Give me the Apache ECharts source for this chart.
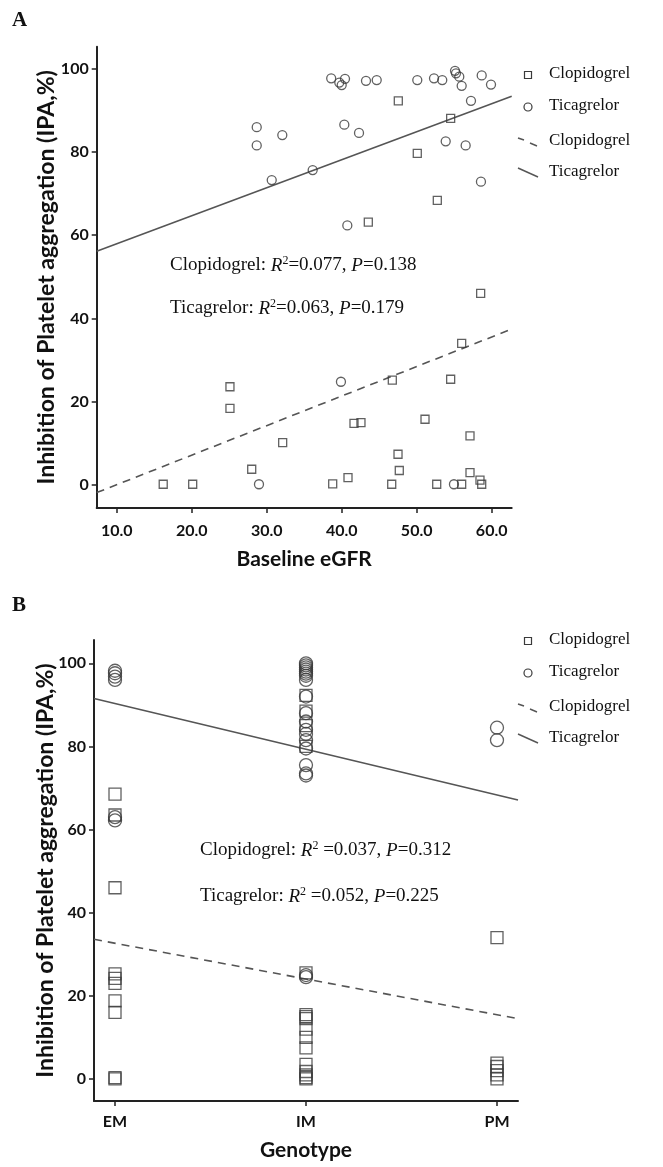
<!DOCTYPE html>
<html>
<head>
<meta charset="utf-8">
<script src="https://cdn.jsdelivr.net/npm/echarts@6/dist/echarts.min.js"></script>
<style>
  html, body { margin: 0; padding: 0; background: #fff; }
  #chart { width: 663px; height: 1167px; }
</style>
</head>
<body>
<div id="chart"></div>
<script>
// ---- Panel A: IPA vs baseline eGFR ----
const egfrClop = [47.55, 54.53, 50.08, 52.75, 43.55, 58.53, 56.0, 46.75, 54.53, 25.1, 25.1, 51.11, 42.57, 41.64, 57.11, 32.13, 47.51, 28.0, 47.68, 57.11, 40.84, 58.44, 38.8, 16.2, 20.13, 46.67, 52.67, 56.0, 58.67];
const ipaClopA  = [92.2, 88.0, 79.6, 68.3, 63.1, 46.0, 34.0, 25.2, 25.4, 23.6, 18.4, 15.8, 15.0, 14.8, 11.8, 10.2, 7.4, 3.8, 3.5, 3.0, 1.8, 1.2, 0.3, 0.2, 0.2, 0.2, 0.2, 0.2, 0.2];
const egfrTica = [28.67, 28.67, 32.08, 30.67, 36.13, 38.6, 39.68, 40.0, 40.44, 43.24, 44.67, 50.08, 52.31, 53.41, 55.11, 55.24, 55.68, 56.0, 58.67, 59.91, 57.24, 40.35, 42.31, 53.87, 56.53, 58.57, 40.75, 39.9, 28.97, 54.97];
const ipaTicaA  = [85.9, 81.5, 84.0, 73.2, 75.6, 97.6, 96.6, 96.0, 97.5, 97.0, 97.2, 97.2, 97.6, 97.2, 99.4, 98.8, 98.0, 95.8, 98.3, 96.1, 92.2, 86.5, 84.5, 82.5, 81.5, 72.8, 62.3, 24.8, 0.2, 0.2];
// linear fits: [intercept, slope]
const fitClopA = [-7.0, 0.709];
const fitTicaA = [51.2, 0.672];
const egfrTicks = [10, 20, 30, 40, 50, 60];

// ---- Panel B: IPA by CYP2C19 genotype ----
const genotypes = ['EM', 'IM', 'PM'];
const genoClop = [1,1,1,1,1,1,1,1,1,1, 2,2,2,2,2,2,2,2,2,2,2,2,2,2,2,2, 3,3,3,3,3,3];
const ipaClopB = [68.5, 63.5, 46.0, 25.3, 24.2, 23.0, 18.8, 16.0, 0.3, 0,
                  92.3, 88.5, 85.0, 80.0, 25.5, 15.5, 15.0, 14.5, 12.0, 10.0, 7.5, 3.5, 1.8, 1.0, 0.3, 0,
                  34.0, 3.8, 3.0, 2.0, 1.0, 0];
const genoTica = [1,1,1,1,1,1, 2,2,2,2,2,2,2,2,2,2,2,2,2,2,2,2,2,2,2,2, 3,3];
const ipaTicaB = [98.2, 97.6, 96.8, 96.0, 63.0, 62.2,
                  100, 99.5, 99.0, 98.5, 98.0, 97.5, 97.0, 96.0, 92.0, 88.0, 86.0, 84.0, 83.0, 81.5, 79.5, 75.5, 73.5, 73.0, 25.0, 24.5,
                  84.5, 81.5];
const fitClopB = [41.25, -8.6];
const fitTicaB = [101.3, -11.0];

const ipaTicks = [0, 20, 40, 60, 80, 100];

// axis extents
const xA = [7.33, 62.67], yA = [-5.5, 105.2];
const xB = [0.89, 3.11], yB = [-5.3, 105.6];

const zip = (xs, ys) => xs.map((x, i) => [x, ys[i]]);
const fitLine = (fit, ext) => ext.map(x => [x, fit[0] + fit[1] * x]);

const INK = '#3a3a3a';
const SANS = 'Lato';
const SERIF = 'Liberation Serif';

const tickLabel = { color: '#111', fontFamily: SANS, fontWeight: 'bold', fontSize: 16 };

function valueAxis(ext, ticks, fmt, extra) {
  return Object.assign({
    type: 'value', min: ext[0], max: ext[1],
    splitLine: { show: false },
    axisLine: { show: true, onZero: false, lineStyle: { color: '#222', width: 2 } },
    axisTick: { show: true, customValues: ticks, length: 5, lineStyle: { color: '#222', width: 1.5 } },
    axisLabel: Object.assign({ customValues: ticks, formatter: fmt }, tickLabel),
    nameMoveOverlap: false
  }, extra);
}

const yName = 'Inhibition of Platelet aggregation (IPA,%)';
const yNameStyle = { fontFamily: SANS, fontWeight: 'bold', fontSize: 23, color: '#111' };
const xNameStyle = { fontFamily: SANS, fontWeight: 'bold', fontSize: 21, color: '#111' };

const hollow = { color: 'rgba(0,0,0,0)', borderColor: INK, borderWidth: 1.3 };

function scatter(name, data, symbol, size, idx) {
  return { name, type: 'scatter', xAxisIndex: idx, yAxisIndex: idx, data, symbol, symbolSize: size,
           itemStyle: hollow, emphasis: { disabled: true }, z: 3 };
}
function line(name, data, dashed, idx) {
  return { name, type: 'line', xAxisIndex: idx, yAxisIndex: idx, data, symbol: 'none', silent: true,
           lineStyle: { color: '#555', width: 1.6, type: dashed ? [8, 6] : 'solid' }, z: 2 };
}

// legend block (markers + labels) drawn at a given top
function legendBlock(top) {
  const x0 = 528, tx = 549, s = 7;
  const txt = (t, y) => ({ type: 'text', left: tx, top: y - 10,
    style: { text: t, fontFamily: SERIF, fontSize: 17, fill: '#111' } });
  return [
    { type: 'rect', shape: { x: x0 - s / 2, y: top - s / 2, width: s, height: s },
      style: { fill: 'none', stroke: INK, lineWidth: 1.2 } },
    txt('Clopidogrel', top),
    { type: 'circle', shape: { cx: x0, cy: top + 32, r: s / 2 + 0.5 },
      style: { fill: 'none', stroke: INK, lineWidth: 1.2 } },
    txt('Ticagrelor', top + 32),
    { type: 'line', shape: { x1: 518, y1: top + 63, x2: 524, y2: top + 65 }, style: { stroke: '#555', lineWidth: 1.4 } },
    { type: 'line', shape: { x1: 530, y1: top + 68, x2: 537, y2: top + 71 }, style: { stroke: '#555', lineWidth: 1.4 } },
    txt('Clopidogrel', top + 67),
    { type: 'line', shape: { x1: 518, y1: top + 93, x2: 538, y2: top + 102 }, style: { stroke: '#555', lineWidth: 1.4 } },
    txt('Ticagrelor', top + 98)
  ];
}

const richStyle = {
  n: { fontFamily: SERIF, fontSize: 19, fill: '#111', verticalAlign: 'bottom', lineHeight: 22 },
  i: { fontFamily: SERIF, fontSize: 19, fontStyle: 'italic', fill: '#111', verticalAlign: 'bottom', lineHeight: 22 },
  s: { fontFamily: SERIF, fontSize: 12, fill: '#111', verticalAlign: 'bottom', lineHeight: 22, padding: [0, 0, 8, 0] }
};
function stat(left, top, drug, r2, p, gap) {
  return { type: 'text', left, top,
    style: { text: `{n|${drug}: }{i|R}{s|2}{n|${gap}=${r2}, }{i|P}{n|=${p}}`, rich: richStyle } };
}

const option = {
  animation: false,
  backgroundColor: '#fff',
  grid: [
    { left: 96.7, top: 46.7, width: 415, height: 461.3 },
    { left: 94, top: 640, width: 424, height: 461 }
  ],
  xAxis: [
    valueAxis(xA, egfrTicks, v => v.toFixed(1), {
      gridIndex: 0, name: 'Baseline eGFR', nameLocation: 'middle', nameGap: 41, nameTextStyle: xNameStyle,
      axisLabel: Object.assign({ customValues: egfrTicks, formatter: v => v.toFixed(1), margin: 15 }, tickLabel) }),
    valueAxis(xB, [1, 2, 3], v => genotypes[Math.round(v) - 1], {
      gridIndex: 1, name: 'Genotype', nameLocation: 'middle', nameGap: 39, nameTextStyle: xNameStyle,
      axisLabel: Object.assign({ customValues: [1, 2, 3], formatter: v => genotypes[Math.round(v) - 1], margin: 13 }, tickLabel) })
  ],
  yAxis: [
    valueAxis(yA, ipaTicks, v => String(v), {
      gridIndex: 0, name: yName, nameLocation: 'middle', nameGap: 39, nameRotate: 90, nameTextStyle: yNameStyle }),
    valueAxis(yB, ipaTicks, v => String(v), {
      gridIndex: 1, name: yName, nameLocation: 'middle', nameGap: 36.5, nameRotate: 90, nameTextStyle: yNameStyle })
  ],
  series: [
    scatter('Clopidogrel', zip(egfrClop, ipaClopA), 'rect', 8, 0),
    scatter('Ticagrelor', zip(egfrTica, ipaTicaA), 'circle', 9, 0),
    line('Clopidogrel fit', fitLine(fitClopA, xA), true, 0),
    line('Ticagrelor fit', fitLine(fitTicaA, xA), false, 0),
    scatter('Clopidogrel', zip(genoClop, ipaClopB), 'rect', 12, 1),
    scatter('Ticagrelor', zip(genoTica, ipaTicaB), 'circle', 13, 1),
    line('Clopidogrel fit', fitLine(fitClopB, xB), true, 1),
    line('Ticagrelor fit', fitLine(fitTicaB, xB), false, 1)
  ],
  graphic: [
    { type: 'text', left: 12, top: 10, style: { text: 'A', fontFamily: SERIF, fontWeight: 'bold', fontSize: 21, fill: '#111' } },
    { type: 'text', left: 12, top: 595, style: { text: 'B', fontFamily: SERIF, fontWeight: 'bold', fontSize: 21, fill: '#111' } },
    stat(170, 255, 'Clopidogrel', '0.077', '0.138', ''),
    stat(170, 298, 'Ticagrelor', '0.063', '0.179', ''),
    stat(200, 840, 'Clopidogrel', '0.037', '0.312', ' '),
    stat(200, 886, 'Ticagrelor', '0.052', '0.225', ' '),
    ...legendBlock(75),
    ...legendBlock(641)
  ]
};

const chart = echarts.init(document.getElementById('chart'), null, { renderer: 'canvas' });
chart.setOption(option);
</script>
</body>
</html>
